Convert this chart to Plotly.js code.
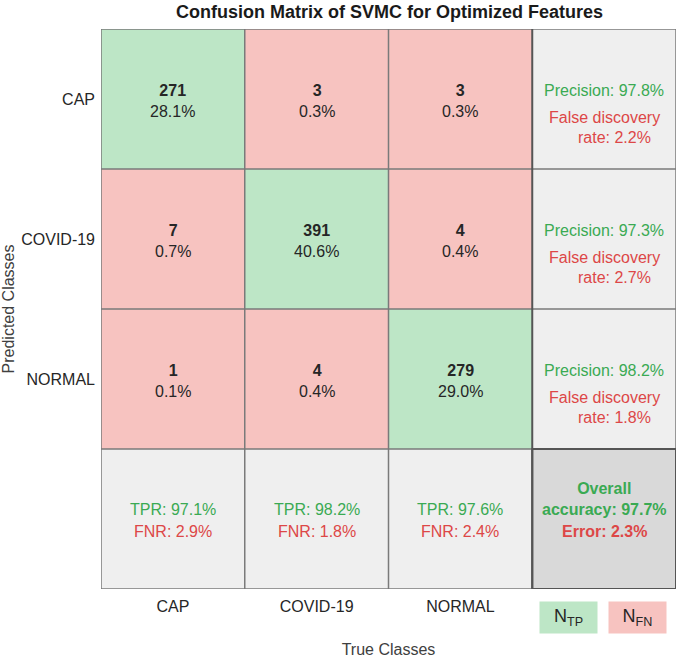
<!DOCTYPE html>
<html>
<head>
<meta charset="utf-8">
<script src="https://cdn.plot.ly/plotly-3.0.1.min.js"></script>
<style>html,body{margin:0;padding:0;background:#fff;}#chart{width:677px;height:658px;}</style>
</head>
<body>
<div id="chart"></div>
<script>
const classes = ["CAP", "COVID-19", "NORMAL"];
const counts = [
  [271, 3, 3],
  [7, 391, 4],
  [1, 4, 279]
];
const percents = [
  [28.1, 0.3, 0.3],
  [0.7, 40.6, 0.4],
  [0.1, 0.4, 29.0]
];
const precision = [97.8, 97.3, 98.2];
const fdr = [2.2, 2.7, 1.8];
const tpr = [97.1, 98.2, 97.6];
const fnr = [2.9, 1.8, 2.4];
const overallAccuracy = 97.7;
const overallError = 2.3;
const legendLabels = ["N<sub>TP</sub>", "N<sub>FN</sub>"];

const FONT = "Liberation Sans, Arial, sans-serif";
const GREEN_BG = "#bde6c6";
const RED_BG = "#f7c3c0";
const GRAY_BG = "#efefef";
const DARK_BG = "#d9d9d9";
const GREEN_TX = "#3aaa53";
const RED_TX = "#dd4747";
const TXT = "#262626";

const n = classes.length;
// category codes: 0 diag, 1 off-diag, 2 summary, 3 overall
const z = [];
for (let r = 0; r <= n; r++) {
  const row = [];
  for (let c = 0; c <= n; c++) {
    if (r === n && c === n) row.push(3);
    else if (r === n || c === n) row.push(2);
    else if (r === c) row.push(0);
    else row.push(1);
  }
  z.push(row);
}
const idx = [];
for (let i = 0; i <= n; i++) idx.push(i);

const trace = {
  type: "heatmap",
  x: idx, y: idx, z: z,
  zmin: 0, zmax: 3,
  colorscale: [[0, GREEN_BG], [0.25, GREEN_BG], [0.25, RED_BG], [0.5, RED_BG],
               [0.5, GRAY_BG], [0.75, GRAY_BG], [0.75, DARK_BG], [1, DARK_BG]],
  showscale: false,
  hoverinfo: "skip"
};

const annotations = [];
for (let r = 0; r < n; r++) {
  for (let c = 0; c < n; c++) {
    annotations.push({
      x: c, y: r, xref: "x", yref: "y", showarrow: false,
      text: "<b>" + counts[r][c] + "</b><br>" + percents[r][c].toFixed(1) + "%",
      font: {family: FONT, size: 16, color: TXT}, yshift: -2
    });
  }
  annotations.push({
    x: n, y: r, xref: "x", yref: "y", showarrow: false, yshift: 9,
    text: "Precision: " + precision[r].toFixed(1) + "%",
    font: {family: FONT, size: 16, color: GREEN_TX}
  });
  annotations.push({
    x: n, y: r, xref: "x", yref: "y", showarrow: false, yshift: -18,
    text: "False discovery",
    font: {family: FONT, size: 16, color: RED_TX}
  });
  annotations.push({
    x: n, y: r, xref: "x", yref: "y", showarrow: false, yshift: -38, xshift: 10,
    text: "rate: " + fdr[r].toFixed(1) + "%",
    font: {family: FONT, size: 16, color: RED_TX}
  });
}
for (let c = 0; c < n; c++) {
  annotations.push({
    x: c, y: n, xref: "x", yref: "y", showarrow: false, yshift: 10,
    text: "TPR: " + tpr[c].toFixed(1) + "%",
    font: {family: FONT, size: 16, color: GREEN_TX}
  });
  annotations.push({
    x: c, y: n, xref: "x", yref: "y", showarrow: false, yshift: -12,
    text: "FNR: " + fnr[c].toFixed(1) + "%",
    font: {family: FONT, size: 16, color: RED_TX}
  });
}
annotations.push({
  x: n, y: n, xref: "x", yref: "y", showarrow: false, yshift: 20,
  text: "<b>Overall<br>accuracy: " + overallAccuracy.toFixed(1) + "%</b>",
  font: {family: FONT, size: 16, color: GREEN_TX}
});
annotations.push({
  x: n, y: n, xref: "x", yref: "y", showarrow: false, yshift: -12,
  text: "<b>Error: " + overallError.toFixed(1) + "%</b>",
  font: {family: FONT, size: 16, color: RED_TX}
});
// legend boxes
const legendBg = [GREEN_BG, RED_BG];
const legendX = [0.8125, 0.933];
for (let i = 0; i < legendLabels.length; i++) {
  annotations.push({
    x: legendX[i], y: -0.05, xref: "paper", yref: "paper", showarrow: false,
    xanchor: "center", yanchor: "middle",
    text: legendLabels[i], width: 57, height: 31, bgcolor: legendBg[i],
    borderpad: 0, font: {family: FONT, size: 18, color: TXT}
  });
}

const shapes = [];
for (let k = 0; k <= n + 1; k++) {
  const v = k - 0.5;
  const dark = (k === n);
  shapes.push({type: "line", xref: "x", yref: "y", x0: v, x1: v, y0: -0.5, y1: n + 0.5,
    line: {color: dark ? "#555555" : "#7a7a7a", width: dark ? 2 : 1.5}});
  shapes.push({type: "line", xref: "x", yref: "y", y0: v, y1: v, x0: -0.5, x1: n + 0.5,
    line: {color: "#7a7a7a", width: 1.5}});
}
shapes.push({type: "rect", xref: "x", yref: "y", x0: n - 0.5, x1: n + 0.5, y0: n - 0.5, y1: n + 0.5,
  line: {color: "#555555", width: 2}});

const layout = {
  width: 677, height: 658,
  margin: {l: 101, r: 1, t: 29, b: 69},
  paper_bgcolor: "#ffffff", plot_bgcolor: "#ffffff",
  title: {text: "Confusion Matrix of SVMC for Optimized Features",
    font: {family: FONT, size: 18, color: "#1a1a1a", weight: 700},
    x: 0.5755, xanchor: "center", y: 1 - 12 / 658, yanchor: "middle", yref: "container"},
  xaxis: {range: [-0.5, n + 0.5], tickvals: [0, 1, 2], ticktext: classes,
    showgrid: false, zeroline: false, showline: false, ticks: "", ticklabelstandoff: 6,
    tickfont: {family: FONT, size: 16, color: TXT},
    title: {text: "True Classes", font: {family: FONT, size: 16, color: "#404040"}, standoff: 35},
    fixedrange: true},
  yaxis: {range: [n + 0.5, -0.5], tickvals: [0, 1, 2], ticktext: classes,
    showgrid: false, zeroline: false, showline: false, ticks: "", ticklabelstandoff: 5,
    tickfont: {family: FONT, size: 16, color: TXT},
    title: {text: "Predicted Classes", font: {family: FONT, size: 16, color: "#404040"}, standoff: 4},
    fixedrange: true},
  annotations: annotations,
  shapes: shapes,
  showlegend: false
};

Plotly.newPlot("chart", [trace], layout, {displayModeBar: false, staticPlot: true});
</script>
</body>
</html>
